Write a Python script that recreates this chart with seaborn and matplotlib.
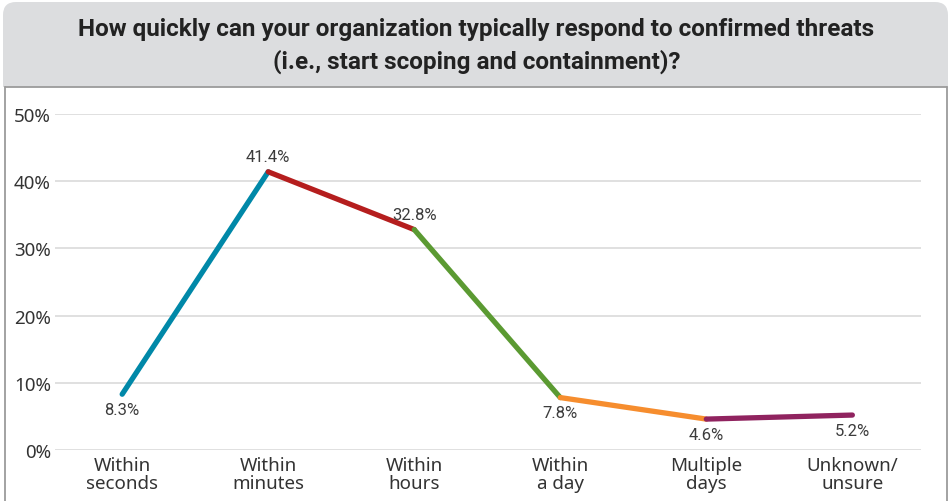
import matplotlib
matplotlib.use("Agg")
import matplotlib.pyplot as plt
from matplotlib.patches import FancyBboxPatch, Rectangle
from matplotlib.lines import Line2D
import seaborn as sns
import pandas as pd

categories = ["Within\nseconds", "Within\nminutes", "Within\nhours",
              "Within\na day", "Multiple\ndays", "Unknown/\nunsure"]
values = [8.3, 41.4, 32.8, 7.8, 4.6, 5.2]
value_labels = ["8.3%", "41.4%", "32.8%", "7.8%", "4.6%", "5.2%"]
label_side = [-1, 1, 1, -1, -1, -1]
segment_colors = ["#0088A8", "#B51E1E", "#5B9A32", "#F68D2E", "#90235F"]
yticks = [0, 10, 20, 30, 40, 50]
ytick_labels = ["0%", "10%", "20%", "30%", "40%", "50%"]
title = ("How quickly can your organization typically respond to confirmed threats\n"
         "(i.e., start scoping and containment)?")

sns.set_theme(style="white")
plt.rcParams['font.family'] = ['Noto Sans', 'DejaVu Sans']

W, H = 953, 502
fig = plt.figure(figsize=(W / 100, H / 100), dpi=100)
fig.patch.set_facecolor("white")
tr = fig.dpi_scale_trans

def px(x, y):
    return x / 100, (H - y) / 100

# title box (rounded top corners)
x0, y0 = px(3, 110)
box = FancyBboxPatch((x0, y0), (948 - 3) / 100, (110 - 3) / 100,
                     boxstyle="round,pad=0,rounding_size=0.13",
                     transform=tr, facecolor="#DCDDDF", edgecolor="none", zorder=0)
fig.patches.append(box)
rx, ry = px(0, 502)
fig.patches.append(Rectangle((rx, ry), W / 100, (502 - 88) / 100, transform=tr,
                             facecolor="white", edgecolor="none", zorder=0.5))
border = "#9B9B9B"
for (xa, ya, xb, yb) in [(5, 88, 947, 88), (5, 88, 5, 502), (947, 88, 947, 502)]:
    (ax_, ay_), (bx_, by_) = px(xa, ya), px(xb, yb)
    fig.lines.append(Line2D([ax_, bx_], [ay_, by_], transform=tr, color=border,
                            lw=1.3, zorder=1))

fig.text(0.5, (H - 46) / H, title, ha="center", va="center",
         fontsize=17.5, fontweight="bold", color="#222222", linespacing=1.4,
         family=['Roboto', 'DejaVu Sans'])

ax = fig.add_axes([55 / W, 51 / H, 866 / W, 336 / H])
ax.set_zorder(2)
ax.set_facecolor("none")

xs = list(range(len(categories)))
for i, c in enumerate(segment_colors):
    seg = pd.DataFrame({"x": [xs[i], xs[i + 1]], "y": [values[i], values[i + 1]]})
    sns.lineplot(data=seg, x="x", y="y", ax=ax, color=c, lw=3.8,
                 solid_capstyle="round", zorder=3)

for x, v, lab, s in zip(xs, values, value_labels, label_side):
    ax.annotate(lab, (x, v), xytext=(0, 11 * s), textcoords="offset points",
                ha="center", va="center", fontsize=12, color="#3C3C3C",
                family=['Roboto', 'DejaVu Sans'], zorder=4)

ax.set_xlim(-0.46, 5.47)
ax.set_ylim(0, 50)
ax.set_yticks(yticks)
ax.set_yticklabels(ytick_labels)
ax.set_xticks(xs)
ax.set_xticklabels(categories, linespacing=1.05)
ax.tick_params(axis="both", length=0, labelsize=13.5, colors="#333333")
ax.tick_params(axis="y", pad=3)
ax.tick_params(axis="x", pad=4)
ax.set_xlabel("")
ax.set_ylabel("")
ax.grid(axis="y", color="#DADADA", lw=1.2)
ax.grid(axis="x", visible=False)
ax.set_axisbelow(True)
for sp in ax.spines.values():
    sp.set_visible(False)

fig.savefig("out.png", dpi=100, facecolor="white")
